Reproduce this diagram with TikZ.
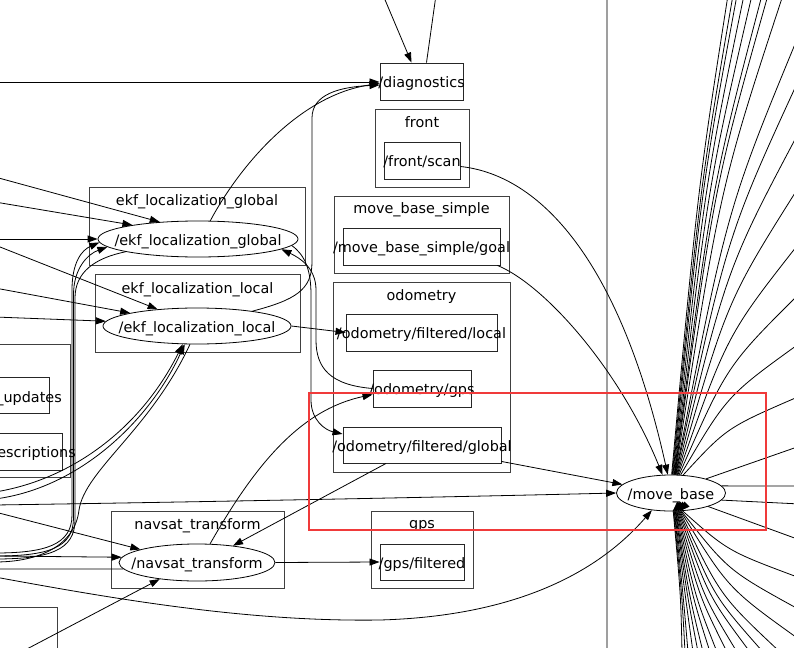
\documentclass[tikz,border=0pt]{standalone}
\usepackage{fontspec}
\setmainfont{DejaVu Sans}
\usetikzlibrary{shapes.geometric,arrows.meta}
\definecolor{hlred}{RGB}{240,58,58}
\newcommand\nbx[1]{\makebox[0pt]{#1}}
\begin{document}
\begin{tikzpicture}[x=1pt,y=-1pt,font=\fontsize{14.4}{17}\selectfont,
  wire/.style={line width=0.8pt},
  edge/.style={wire,-{Triangle[length=10pt,width=7pt]}},
  redge/.style={wire,{Triangle[length=10pt,width=7pt]}-},
  clus/.style={draw=black!75,line width=0.9pt,inner sep=0pt,anchor=north west},
  topic/.style={draw=black!85,line width=0.9pt,inner sep=0pt,minimum height=37pt,text height=12pt,text depth=0pt},
  gnode/.style={ellipse,draw=black,line width=0.8pt,inner sep=0pt,minimum height=36pt,text height=12pt,text depth=0pt},
  ttl/.style={inner sep=0pt,anchor=base}]
\useasboundingbox (0,0) rectangle (794,647);
\clip (0,0) rectangle (794,647);

% big cluster border
\coordinate (gt) at (607,-5);
\coordinate (gb) at (607,652);
\draw[gray!75,line width=1.6pt] (gt) -- (gb);

% clusters
\node[clus,minimum width=94pt,minimum height=78pt] (cfront) at (375,109) {};
\node[clus,minimum width=175pt,minimum height=77pt] (cmbs) at (334,196) {};
\node[clus,minimum width=177pt,minimum height=190pt] (codo) at (333,282) {};
\node[clus,minimum width=102pt,minimum height=77pt] (cgps) at (371,511) {};
\node[clus,minimum width=216pt,minimum height=78pt] (cekfg) at (89,187) {};
\node[clus,minimum width=205pt,minimum height=78pt] (cekfl) at (95,274) {};
\node[clus,minimum width=173pt,minimum height=77pt] (cnav) at (111,511) {};
\node[clus,minimum width=80pt,minimum height=133pt] (cleft) at (-10,344) {};
\node[clus,minimum width=67pt,minimum height=60pt] (cbl) at (-10,607) {};

% cluster titles
\node[ttl] (tfront) at (422,128) {front};
\node[ttl] (tmbs) at (421.5,213) {move\_base\_simple};
\node[ttl] (todo) at (421.5,300) {odometry};
\node[ttl] (tgps) at (422,528) {gps};
\node[ttl] (tekfg) at (197,205) {ekf\_localization\_global};
\node[ttl] (tekfl) at (197.5,293) {ekf\_localization\_local};
\node[ttl] (tnav) at (197.5,529) {navsat\_transform};

% topics
\node[topic,minimum width=83pt] (diag) at (421.5,81.5) {\nbx{/diagnostics}};
\node[topic,minimum width=76pt] (fscan) at (422,160.5) {\nbx{/front/scan}};
\node[topic,minimum width=157pt] (goal) at (421.5,246.5) {\nbx{/move\_base\_simple/goal}};
\node[topic,minimum width=151pt] (ofl) at (421.5,332.5) {\nbx{/odometry/filtered/local}};
\node[topic,minimum width=98pt] (ogps) at (422,388.5) {\nbx{/odometry/gps}};
\node[topic,minimum width=158pt,minimum height=36pt] (ofg) at (422,445) {\nbx{/odometry/filtered/global}};
\node[topic,minimum width=84pt,minimum height=36pt] (gpsf) at (422,562) {\nbx{/gps/filtered}};
\node[topic,minimum width=59pt,minimum height=36pt] (upd) at (19.5,395) {};
\node[topic,minimum width=72pt] (desc) at (26,451.5) {};
\node[ttl,anchor=base east] (updt) at (62,402) {\_updates};
\node[ttl,anchor=base east] (desct) at (76,457) {escriptions};

% node ellipses
\node[gnode,minimum width=200pt] (ekfg) at (198,239) {\nbx{/ekf\_localization\_global}};
\node[gnode,minimum width=188pt] (ekfl) at (197,326) {\nbx{/ekf\_localization\_local}};
\node[gnode,minimum width=156pt,minimum height=37pt] (nav) at (197,562.5) {\nbx{/navsat\_transform}};
\node[gnode,minimum width=109pt] (mb) at (671,493) {\nbx{/move\_base}};

% free ends
\coordinate (Ld) at (-5,82);
\coordinate (T1) at (383,-5);
\coordinate (T2) at (436,-5);
\coordinate (Lg1) at (-5,177);
\coordinate (Lg2) at (-5,202);
\coordinate (Lg3) at (-5,239);
\coordinate (Lb1) at (-5,553);
\coordinate (Lb2) at (-5,556);
\coordinate (Lb3) at (-5,559);
\coordinate (Ll1) at (-5,245);
\coordinate (Ll2) at (-5,288);
\coordinate (Ll3) at (-5,317);
\coordinate (Lc1) at (-5,492);
\coordinate (Lc2) at (-5,499);
\coordinate (Lc3) at (-5,562);
\coordinate (Ln1) at (-5,512);
\coordinate (Ln2) at (-5,556);
\coordinate (Ln3) at (-5,569);
\coordinate (Lbl) at (25,650);
\coordinate (Lm) at (-5,505);
\coordinate (Lbc) at (-5,577);

% edges around diagnostics
\draw[edge] (Ld) -- ([yshift=-0.5pt]diag.west);
\draw[edge] (T1) -- ([xshift=-10pt]diag.north);
\draw[wire] ([xshift=5pt]diag.north) -- (T2);
\draw[edge] (ekfg.56) .. controls (240,165) and (300,95) .. ([yshift=-2pt]diag.west);
\draw[edge] (ekfl.15) .. controls (295,300) and (312,290) .. (312,262) -- (312,118) .. controls (312,94) and (340,87) .. ([yshift=-3.5pt]diag.west);

% into ekf global
\draw[edge] (Lg1) -- (ekfg.156);
\draw[edge] (Lg2) -- (ekfg.168);
\draw[edge] (Lg3) -- (ekfg.west);
\draw[edge] (Lb1) .. controls (45,553) and (72,545) .. (72,515) -- (72,290) .. controls (72,262) and (82,250) .. (ekfg.182);
\draw[edge] (Lb2) .. controls (48,556) and (73.5,548) .. (73.5,518) -- (73.5,295) .. controls (73.5,268) and (88,254) .. (ekfg.185);
\draw[wire] (ekfg.190) .. controls (95,258) and (75,272) .. (75,298) -- (75,520) .. controls (75,550) and (50,559) .. (Lb3);

% into ekf local
\draw[edge] (Ll1) -- (ekfl.157);
\draw[edge] (Ll2) -- (ekfl.169);
\draw[edge] (Ll3) -- (ekfl.177);
\draw[edge] (Lc1) .. controls (70,480) and (140,430) .. (ekfl.232);
\draw[edge] (Lc2) .. controls (80,488) and (150,420) .. (ekfl.236);
\draw[wire] (ekfl.249) .. controls (150,430) and (85,470) .. (79,510) .. controls (75,545) and (40,562) .. (Lc3);

% odometry
\draw[edge] (ekfl.east) -- (ofl.west);
\draw[edge] (ogps.west) .. controls (330,385) and (316,368) .. (316,340) -- (316,290) .. controls (316,268) and (300,258) .. (ekfg.-7);
\draw[edge] (ekfg.-4) .. controls (305,255) and (311,270) .. (311,295) -- (311,400) .. controls (311,420) and (325,430) .. ([yshift=11pt]ofg.west);
\draw[edge] (nav.55) .. controls (255,465) and (300,410) .. ([yshift=-6pt]ogps.west);
\draw[edge] ([xshift=-36pt]ofg.south) -- (nav.25);
\draw[edge] (nav.east) -- (gpsf.west);

% into navsat
\draw[edge] (Ln1) -- (nav.167);
\draw[edge] (Ln2) -- (nav.176);
\draw[wire] (nav.185) -- (Ln3);
\draw[edge] (Lbl) -- (nav.204);

% into move_base
\draw[edge] (Lm) .. controls (200,502) and (450,497) .. (mb.west);
\draw[edge] ([yshift=2pt]ofg.south east) -- (mb.170);
\draw[edge] (Lbc) .. controls (120,600) and (250,622) .. (380,620) .. controls (520,616) and (600,570) .. (mb.222);
\draw[edge] ([yshift=-6pt]fscan.east) .. controls (540,175) and (620,260) .. (mb.100);
\draw[edge] ([xshift=-3pt]goal.south east) .. controls (545,285) and (620,370) .. (mb.115);

% fan above move_base
\foreach \a/\ex/\ey in {88/728/-5, 86/733/-5, 84/737/-5, 82/744/-5, 80/752/-5, 79/762/-5, 78/768/-5, 77/783/-5,
  76/800/32, 75/800/77, 73/800/130, 71/800/185, 69/800/242, 66/800/293, 62/800/343,
  56/800/396}
  \draw[wire] (mb.\a) .. controls ({678+0.4*(\ex-678)},{475+0.6*(\ey-475)}) .. (\ex,\ey);
\foreach \a/\ex/\ey in {22/800/446, 8/800/486, -8/800/504, -20/800/540}
  \draw[wire] (mb.\a) -- (\ex,\ey);

% fan below move_base
\foreach \a/\ex/\ey in {-83/682/652, -82/685/652, -80/688/652, -79/693/652,
  -77/698/652, -76/703/652, -75/710/652, -73/717/652, -72/727/652, -70/737/652,
  -68/750/652, -66/763/652, -64/780/652, -62/800/640, -60/800/610, -57/800/578}
  \draw[wire] (mb.\a) .. controls ({680+0.4*(\ex-680)},{511+0.6*(\ey-511)}) .. (\ex,\ey);
\foreach \a in {-85,-80,-76,-70,-64}
  \draw[redge] (mb.\a) -- ++(0.5,-0.5);

% highlight
\coordinate (r1) at (309,393);
\coordinate (r2) at (766,530);
\draw[hlred,line width=2.5pt] (r1) rectangle (r2);
\end{tikzpicture}
\end{document}
